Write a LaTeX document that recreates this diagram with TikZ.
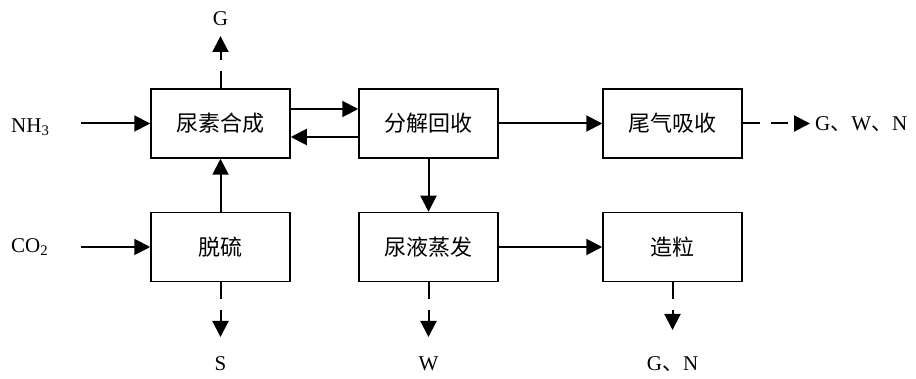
\documentclass[tikz,border=0pt]{standalone}
\usepackage{fontspec}
\setmainfont{Liberation Serif}
\newfontfamily\cjk{Noto Sans CJK SC}
\usetikzlibrary{arrows.meta}
\tikzset{
  box/.style={draw, line width=1.5pt, fill=white, minimum width=139pt, minimum height=69pt, inner sep=0pt, font=\cjk\fontsize{22}{26}\selectfont},
  lbl/.style={inner sep=0pt, font=\fontsize{21}{25}\selectfont},
  flow/.style={line width=2pt, -{Triangle[length=16pt,width=16pt]}},
  dflow/.style={flow, dash pattern=on 17pt off 11pt},
}
\begin{document}
\begin{tikzpicture}[x=1pt,y=-1pt]
\useasboundingbox (0,0) rectangle (916,379);
\node[box] (syn) at (220.5,123.5) {尿素合成};
\node[box] (dec) at (428.5,123.5) {分解回收};
\node[box] (tail) at (672.5,123.5) {尾气吸收};
\node[box] (desul) at (220.5,247) {脱硫};
\node[box] (evap) at (428.5,247) {尿液蒸发};
\node[box] (gran) at (672.5,247) {造粒};

\node[lbl, anchor=west] (nh3) at (11,127) {NH\textsubscript{3}};
\node[lbl, anchor=west] (co2) at (11,247) {CO\textsubscript{2}};
\node[lbl] (g) at (220.5,19) {G};
\node[lbl, anchor=west] (gwn) at (815,124) {G{\cjk 、}W{\cjk 、}N};
\node[lbl] (s) at (220.5,364) {S};
\node[lbl] (w) at (428.5,364) {W};
\node[lbl] (gn) at (672.5,364) {G{\cjk 、}N};

\coordinate (nh3e) at (81,123.5);
\coordinate (co2e) at (81,247);
\coordinate (gtip) at (220.5,36);
\coordinate (gwntip) at (810,123.5);
\coordinate (stip) at (220.5,337);
\coordinate (wtip) at (428.5,337);
\coordinate (gntip) at (672.5,330);
\draw[flow] (nh3e) -- (syn.west);
\draw[flow] (co2e) -- (desul.west);
\draw[dflow] (syn.north) -- (gtip);
\draw[flow] ([yshift=14.5pt]syn.east) -- ([yshift=14.5pt]dec.west);
\draw[flow] ([yshift=-13.5pt]dec.west) -- ([yshift=-13.5pt]syn.east);
\draw[flow] (dec.east) -- (tail.west);
\draw[dflow] (tail.east) -- (gwntip);
\draw[flow] (desul.north) -- (syn.south);
\draw[flow] (dec.south) -- (evap.north);
\draw[flow] (evap.east) -- (gran.west);
\draw[dflow] (desul.south) -- (stip);
\draw[dflow] (evap.south) -- (wtip);
\draw[dflow] (gran.south) -- (gntip);
\end{tikzpicture}
\end{document}
